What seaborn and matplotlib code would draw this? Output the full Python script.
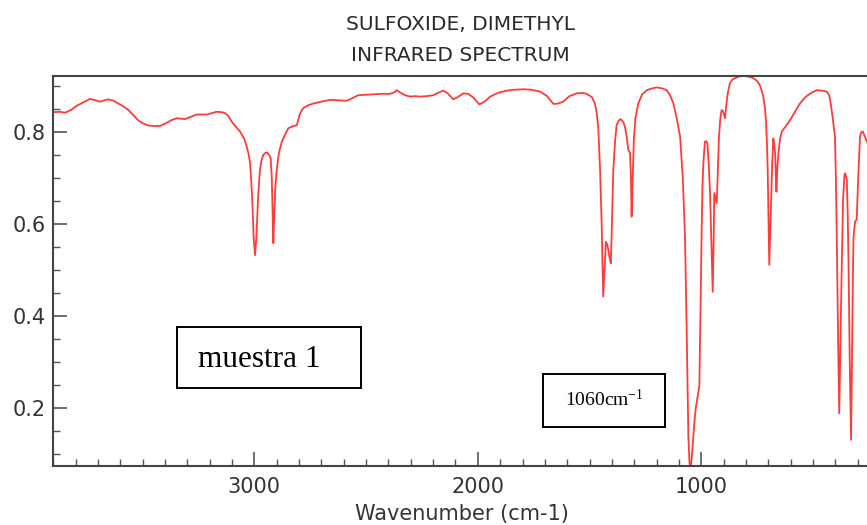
import matplotlib
matplotlib.use("Agg")
import matplotlib.pyplot as plt
import matplotlib.ticker as mticker
from matplotlib.patches import Rectangle
import numpy as np
import pandas as pd
import seaborn as sns

wavenumber = [
    3903, 3870, 3847, 3820, 3795, 3760, 3735, 3710, 3690, 3670, 3653, 3630,
    3616, 3590, 3564, 3540, 3519, 3495, 3474, 3445, 3422, 3392, 3370, 3347,
    3330, 3310, 3285, 3258, 3235, 3213, 3190, 3168, 3145, 3131, 3115, 3101,
    3080, 3064, 3045, 3034, 3025, 3019, 3010, 3003, 2997, 2991, 2983, 2975,
    2968, 2960, 2950, 2942, 2934, 2927, 2922, 2918, 2915, 2911, 2906, 2900,
    2890, 2877, 2860, 2848, 2830, 2810, 2796, 2781, 2760, 2736, 2700, 2661,
    2620, 2587, 2560, 2535, 2500, 2468, 2430, 2393, 2375, 2363, 2348, 2325,
    2303, 2280, 2259, 2229, 2199, 2175, 2154, 2135, 2110, 2090, 2065, 2043,
    2020, 1993, 1970, 1945, 1910, 1871, 1835, 1796, 1760, 1722, 1690, 1662,
    1640, 1618, 1590, 1558, 1530, 1513, 1490, 1476, 1468, 1461, 1453, 1446,
    1439, 1433, 1427, 1421, 1416, 1410, 1405, 1400, 1394, 1386, 1379, 1370,
    1361, 1350, 1342, 1334, 1327, 1319, 1315, 1312, 1307, 1302, 1295, 1282,
    1265, 1244, 1220, 1200, 1175, 1155, 1140, 1125, 1110, 1095, 1083, 1073,
    1065, 1058, 1053, 1048, 1043, 1036, 1030, 1024, 1016, 1009, 1004, 999,
    995, 991, 984, 978, 973, 967, 961, 955, 949, 945, 942, 936,
    931, 926, 921, 915, 909, 903, 894, 889, 884, 879, 872, 860,
    849, 830, 805, 785, 767, 750, 738, 730, 723, 716, 711, 706,
    703, 699, 696, 692, 688, 683, 678, 674, 670, 664, 660, 655,
    648, 640, 620, 603, 580, 559, 540, 529, 505, 484, 460, 439,
    428, 421, 412, 402, 398, 394, 388, 383, 379, 372, 366, 360,
    357, 353, 349, 345, 341, 336, 330, 326, 322, 319, 312, 305,
    298, 290, 284, 278, 270, 259, 245,
]
transmittance = [
    0.843, 0.844, 0.842, 0.848, 0.857, 0.866, 0.872, 0.869, 0.866, 0.869, 0.871, 0.868,
    0.864, 0.857, 0.848, 0.836, 0.825, 0.818, 0.814, 0.813, 0.813, 0.820, 0.826, 0.830,
    0.829, 0.828, 0.833, 0.838, 0.838, 0.838, 0.841, 0.844, 0.843, 0.841, 0.834, 0.822,
    0.810, 0.801, 0.785, 0.768, 0.750, 0.732, 0.660, 0.570, 0.532, 0.570, 0.660, 0.717,
    0.738, 0.750, 0.755, 0.755, 0.750, 0.743, 0.700, 0.620, 0.558, 0.620, 0.680, 0.717,
    0.755, 0.779, 0.797, 0.808, 0.812, 0.815, 0.840, 0.852, 0.858, 0.862, 0.866, 0.870,
    0.869, 0.868, 0.874, 0.880, 0.881, 0.882, 0.883, 0.883, 0.886, 0.891, 0.886, 0.880,
    0.877, 0.878, 0.877, 0.878, 0.880, 0.886, 0.890, 0.884, 0.871, 0.876, 0.884, 0.883,
    0.875, 0.860, 0.866, 0.877, 0.885, 0.890, 0.892, 0.893, 0.892, 0.888, 0.878, 0.861,
    0.862, 0.866, 0.878, 0.884, 0.885, 0.883, 0.876, 0.862, 0.841, 0.808, 0.717, 0.600,
    0.442, 0.500, 0.561, 0.555, 0.543, 0.525, 0.514, 0.600, 0.717, 0.780, 0.815, 0.825,
    0.828, 0.822, 0.812, 0.790, 0.761, 0.754, 0.700, 0.616, 0.700, 0.783, 0.830, 0.862,
    0.882, 0.891, 0.895, 0.897, 0.895, 0.891, 0.880, 0.862, 0.830, 0.790, 0.700, 0.572,
    0.350, 0.137, 0.080, 0.065, 0.090, 0.137, 0.175, 0.202, 0.225, 0.246, 0.400, 0.572,
    0.680, 0.732, 0.779, 0.780, 0.775, 0.730, 0.667, 0.560, 0.452, 0.560, 0.667, 0.655,
    0.645, 0.720, 0.790, 0.830, 0.848, 0.845, 0.830, 0.855, 0.877, 0.891, 0.906, 0.915,
    0.917, 0.921, 0.922, 0.920, 0.917, 0.911, 0.902, 0.890, 0.877, 0.855, 0.826, 0.770,
    0.717, 0.600, 0.511, 0.580, 0.645, 0.730, 0.786, 0.775, 0.754, 0.670, 0.720, 0.754,
    0.785, 0.801, 0.814, 0.826, 0.845, 0.862, 0.873, 0.878, 0.886, 0.891, 0.890, 0.888,
    0.880, 0.862, 0.830, 0.790, 0.700, 0.572, 0.350, 0.188, 0.300, 0.500, 0.650, 0.705,
    0.710, 0.705, 0.696, 0.620, 0.500, 0.300, 0.130, 0.300, 0.480, 0.572, 0.605, 0.609,
    0.700, 0.790, 0.800, 0.801, 0.792, 0.779, 0.770,
]

title_lines = ["SULFOXIDE, DIMETHYL", "INFRARED SPECTRUM"]
x_label = "Wavenumber (cm-1)"
sample_label = "muestra 1"
peak_label = r"$\mathrm{1060cm^{-1}}$"


def main():
    sns.set_style("white")
    plt.rcParams['font.family'] = ['DejaVu Sans']
    plt.rcParams['mathtext.fontset'] = 'custom'
    plt.rcParams['mathtext.rm'] = 'Liberation Serif'

    df = pd.DataFrame({'wavenumber': wavenumber, 'transmittance': transmittance})

    fig = plt.figure(figsize=(8.67, 5.25), dpi=100)
    ax = fig.add_axes([0.0606, 0.1124, 0.945, 0.7434])

    sns.lineplot(data=df, x='wavenumber', y='transmittance', sort=False,
                 estimator=None, color='#ff3b3b', linewidth=1.3, ax=ax)

    ax.set_xlim(3903, 237)
    ax.set_ylim(0.073, 0.9225)

    ax.xaxis.set_major_locator(mticker.MultipleLocator(1000))
    ax.xaxis.set_minor_locator(mticker.MultipleLocator(100))
    ax.yaxis.set_major_locator(mticker.FixedLocator([0.2, 0.4, 0.6, 0.8]))
    ax.yaxis.set_major_formatter(mticker.FormatStrFormatter('%.1f'))
    ax.yaxis.set_minor_locator(mticker.MultipleLocator(0.05))

    # ticks point into the plot, only on bottom and left
    ax.tick_params(which='both', bottom=True, left=True, top=False, right=False)
    ax.tick_params(which='major', direction='in', length=10, width=1.2,
                   color='#555555', labelsize=15, labelcolor='#333333')
    ax.tick_params(which='minor', direction='in', length=5, width=1.0,
                   color='#555555')
    ax.tick_params(axis='x', which='major', pad=8)
    ax.tick_params(axis='y', which='major', pad=5)

    for side in ['left', 'bottom', 'top']:
        ax.spines[side].set_color('#444444')
        ax.spines[side].set_linewidth(1.5)
    ax.spines['right'].set_visible(False)

    ax.set_xlabel(x_label, fontsize=15, color='#333333', labelpad=5)
    ax.set_ylabel('')

    # two-line title above the plot
    fig.text(0.531, 0.954, title_lines[0], ha='center', va='center',
             fontsize=14.5, color='#2a2a2a')
    fig.text(0.531, 0.895, title_lines[1], ha='center', va='center',
             fontsize=14.5, color='#2a2a2a')

    # boxed notes drawn on top of the spectrum
    ax.add_patch(Rectangle((0.1523, 0.199), 0.2242, 0.158, transform=ax.transAxes,
                           facecolor='white', edgecolor='black', linewidth=1.4,
                           zorder=5))
    ax.text(0.1776, 0.2529, sample_label, transform=ax.transAxes, ha='left',
            va='baseline', fontsize=22.5, family='Liberation Serif',
            color='black', zorder=6)

    ax.add_patch(Rectangle((0.5983, 0.1007), 0.1493, 0.1342, transform=ax.transAxes,
                           facecolor='white', edgecolor='black', linewidth=1.4,
                           zorder=5))
    ax.text(0.6255, 0.1545, peak_label, transform=ax.transAxes, ha='left',
            va='baseline', fontsize=14, color='black', zorder=6)

    fig.savefig('out.png', dpi=100)


if __name__ == "__main__":
    main()
